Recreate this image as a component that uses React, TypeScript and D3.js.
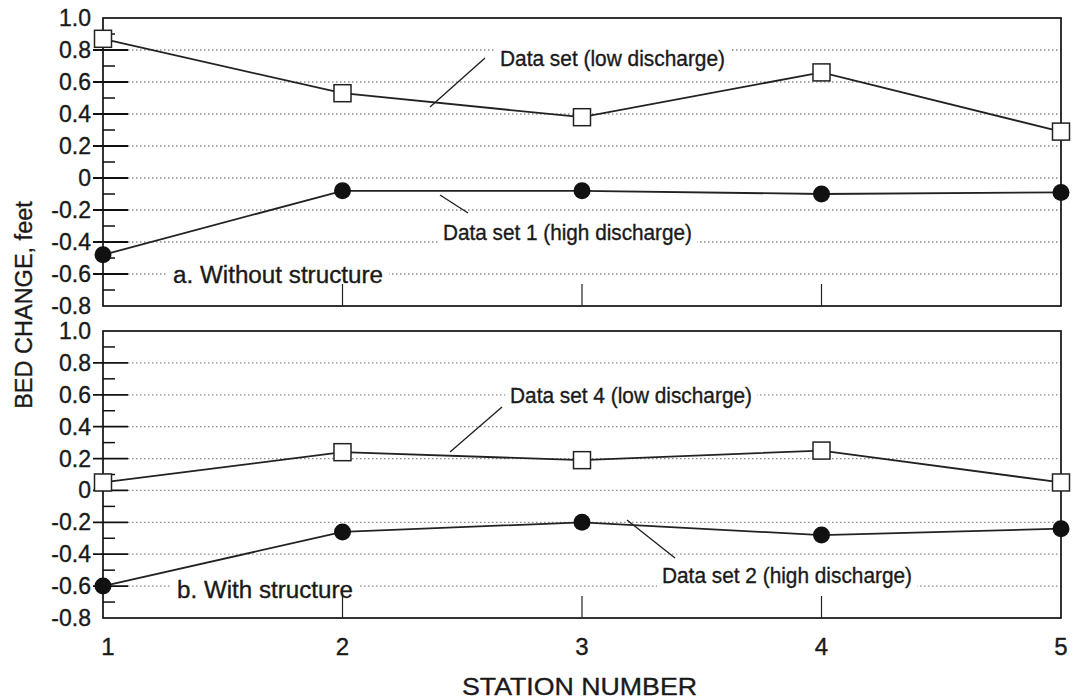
import React from "react";
import * as d3 from "d3";

const stations = [1, 2, 3, 4, 5];
const yTicks = [1.0, 0.8, 0.6, 0.4, 0.2, 0, -0.2, -0.4, -0.6, -0.8];
const yTickLabels = ["1.0", "0.8", "0.6", "0.4", "0.2", "0", "-0.2", "-0.4", "-0.6", "-0.8"];
const minorTicks = [0.9, 0.7, 0.5, 0.3, 0.1, -0.1, -0.3, -0.5, -0.7];
const gridValues = [0.8, 0.6, 0.4, 0.2, 0, -0.2, -0.4, -0.6];

const topLow = [0.87, 0.53, 0.38, 0.66, 0.29];
const topHigh = [-0.48, -0.08, -0.08, -0.10, -0.09];
const botLow = [0.05, 0.24, 0.19, 0.25, 0.05];
const botHigh = [-0.60, -0.26, -0.20, -0.28, -0.24];

const FONT = "'Liberation Sans', Arial, Helvetica, sans-serif";
const TXT = { fontFamily: FONT, fill: "#1a1a1a", stroke: "#1a1a1a", strokeWidth: 0.35 };

type Ann = { text: string; x: number; y: number; w: number; lx1: number; ly1: number; lx2: number; ly2: number };

function Panel({ top, bottom, low, high, label, labelX, labelY, labelW, anns }: {
  top: number; bottom: number; low: number[]; high: number[]; label: string; labelX: number; labelY: number; labelW: number; anns: Ann[];
}) {
  const x = d3.scaleLinear().domain([1, 5]).range([103, 1061]);
  const y = d3.scaleLinear().domain([-0.8, 1.0]).range([bottom, top]);
  const line = d3.line<number>().x((_, i) => x(stations[i])).y((d) => y(d));
  const left = x(1), right = x(5);
  return (
    <g>
      {gridValues.map((v) => (
        <line key={"g" + v} x1={left + 25} x2={right} y1={y(v)} y2={y(v)} stroke="#8a8a8a" strokeWidth={1.3} strokeDasharray="1.5,2.5" />
      ))}
      <rect x={labelX - 6} y={labelY - 19} width={labelW + 12} height={25} fill="#fff" />
      {anns.map((a, i) => (
        <rect key={"r" + i} x={a.x - 5} y={a.y - 18} width={a.w + 10} height={25} fill="#fff" />
      ))}
      <rect x={left} y={top} width={right - left} height={bottom - top} fill="none" stroke="#111" strokeWidth={1.7} />
      {yTicks.map((v, i) => (
        <g key={"t" + v}>
          {v < 0.95 && v > -0.75 && (
            <line x1={left - 10} x2={left + 25} y1={y(v)} y2={y(v)} stroke="#111" strokeWidth={1.8} />
          )}
          <text x={91} y={y(v) + 8} textAnchor="end" fontSize={23} {...TXT}>{yTickLabels[i]}</text>
        </g>
      ))}
      {minorTicks.map((v) => (
        <line key={"m" + v} x1={left} x2={left + 12} y1={y(v)} y2={y(v)} stroke="#111" strokeWidth={1.5} />
      ))}
      {[2, 3, 4].map((s) => (
        <line key={"x" + s} x1={x(s)} x2={x(s)} y1={bottom} y2={bottom - 22} stroke="#222" strokeWidth={1.2} />
      ))}
      {anns.map((a, i) => (
        <g key={"a" + i}>
          <line x1={a.lx1} y1={a.ly1} x2={a.lx2} y2={a.ly2} stroke="#222" strokeWidth={1.4} />
          <text x={a.x} y={a.y} fontSize={21.5} {...TXT} textLength={a.w} lengthAdjust="spacingAndGlyphs">{a.text}</text>
        </g>
      ))}
      <text x={labelX} y={labelY} fontSize={23.5} {...TXT} textLength={labelW} lengthAdjust="spacingAndGlyphs">{label}</text>
      <path d={line(low) || ""} fill="none" stroke="#222" strokeWidth={1.8} />
      <path d={line(high) || ""} fill="none" stroke="#222" strokeWidth={1.8} />
      {low.map((v, i) => (
        <rect key={"s" + i} x={x(stations[i]) - 8.5} y={y(v) - 8.5} width={17} height={17} fill="#fff" stroke="#222" strokeWidth={1.5} />
      ))}
      {high.map((v, i) => (
        <circle key={"c" + i} cx={x(stations[i])} cy={y(v)} r={8.5} fill="#111" />
      ))}
    </g>
  );
}

export default function App() {
  const x = d3.scaleLinear().domain([1, 5]).range([103, 1061]);
  return (
    <svg width={1073} height={700} style={{ position: "absolute", left: 0, top: 0, background: "#fff" }}>
      <rect width={1073} height={700} fill="#fff" />
      <Panel top={18} bottom={306} low={topLow} high={topHigh} label="a. Without structure" labelX={173} labelY={283} labelW={210}
        anns={[
          { text: "Data set (low discharge)", x: 500, y: 66, w: 225, lx1: 430, ly1: 107, lx2: 485, ly2: 58 },
          { text: "Data set 1 (high discharge)", x: 443, y: 240, w: 249, lx1: 440, ly1: 195, lx2: 468, ly2: 213 },
        ]} />
      <Panel top={331} bottom={618} low={botLow} high={botHigh} label="b. With structure" labelX={177} labelY={598} labelW={176}
        anns={[
          { text: "Data set 4 (low discharge)", x: 510, y: 403, w: 242, lx1: 450, ly1: 452, lx2: 502, ly2: 407 },
          { text: "Data set 2 (high discharge)", x: 662, y: 583, w: 250, lx1: 627, ly1: 520, lx2: 675, ly2: 558 },
        ]} />
      {stations.map((s) => (
        <text key={s} x={s === 1 ? x(s) + 5 : x(s)} y={655} textAnchor="middle" fontSize={24} {...TXT}>{s}</text>
      ))}
      <text x={462} y={695} fontSize={24.5} {...TXT} textLength={235} lengthAdjust="spacingAndGlyphs">STATION NUMBER</text>
      <text transform="translate(32,305) rotate(-90)" textAnchor="middle" fontSize={23.5} {...TXT}>BED CHANGE, feet</text>
    </svg>
  );
}
